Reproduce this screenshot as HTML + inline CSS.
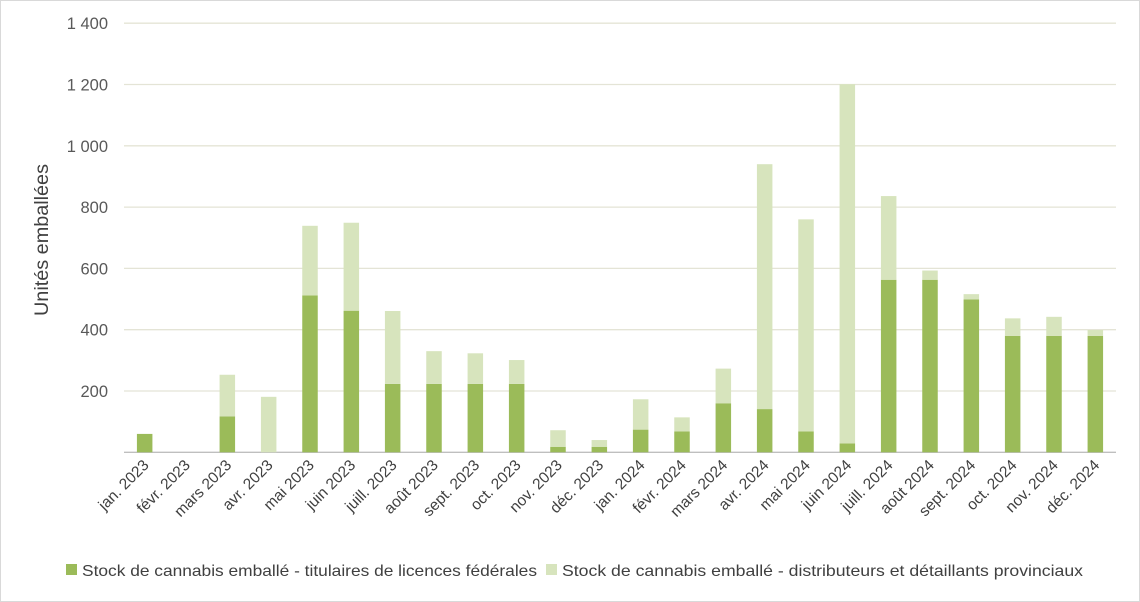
<!DOCTYPE html>
<html><head><meta charset="utf-8"><style>
body{margin:0;background:#fff;}
svg{display:block;font-family:"Liberation Sans",sans-serif;}
</style></head><body>
<svg id="chart" width="1140" height="602" viewBox="0 0 1140 602">
<rect x="0.5" y="0.5" width="1139" height="601" fill="#fff" stroke="#d9d9d9"/>
<g id="grid"></g><g id="bars"></g><g id="yticks"></g><g id="xticks"></g>
<text transform="translate(48,240) rotate(-90)" text-anchor="middle" font-size="19" fill="#404040" textLength="152" lengthAdjust="spacingAndGlyphs">Unités emballées</text>
<g>
<rect x="66" y="564" width="11" height="11" fill="#9bbb59"/>
<text x="82" y="576" font-size="16" fill="#404040" textLength="455" lengthAdjust="spacingAndGlyphs">Stock de cannabis emballé - titulaires de licences fédérales</text>
<rect x="546" y="564" width="11" height="11" fill="#d7e4bd"/>
<text x="562" y="576" font-size="16" fill="#404040" textLength="521" lengthAdjust="spacingAndGlyphs">Stock de cannabis emballé - distributeurs et détaillants provinciaux</text>
</g>
</svg>
<script>
const categories=["jan. 2023","févr. 2023","mars 2023","avr. 2023","mai 2023","juin 2023","juill. 2023","août 2023","sept. 2023","oct. 2023","nov. 2023","déc. 2023","jan. 2024","févr. 2024","mars 2024","avr. 2024","mai 2024","juin 2024","juill. 2024","août 2024","sept. 2024","oct. 2024","nov. 2024","déc. 2024"];
const federal=[60,0,117,0,512,462,223,223,223,223,18,18,74,68,160,141,68,29,563,563,499,380,380,380];
const provincial=[0,0,136,181,227,287,238,107,100,78,54,22,99,46,113,799,692,1172,273,30,17,57,62,19];
const yTicks=[0,200,400,600,800,1000,1200,1400];
const yTickLabels=["","200","400","600","800","1 000","1 200","1 400"];
const NS="http://www.w3.org/2000/svg";
const L=124,R=1116,Y0=452.3,PX=61.3/200;
const bw=(R-L)/categories.length;
const y=v=>Y0-v*PX;
const x=i=>L+bw*(i+0.5);
function mk(t,a,p){const e=document.createElementNS(NS,t);for(const k in a)e.setAttribute(k,a[k]);p.appendChild(e);return e;}
const grid=document.getElementById('grid'),bars=document.getElementById('bars'),yt=document.getElementById('yticks'),xt=document.getElementById('xticks');
yTicks.forEach((v,i)=>{
  const g=mk('line',{x1:L,x2:R,y1:y(v),y2:y(v),stroke:v===0?'#bfbfbf':'#e4e4d6','stroke-width':1.3},grid);
  
  
  const t=mk('text',{x:108,y:y(v)+6,'text-anchor':'end','font-size':16.5,fill:'#595959'},yt);
  t.textContent=yTickLabels[i];
  
  
});
categories.forEach((c,i)=>{
  const w=15.5,cx=x(i);
  if(federal[i]>0){const r=mk('rect',{x:cx-w/2,y:y(federal[i]),width:w,height:federal[i]*PX,fill:'#9bbb59'},bars);
  
  }
  if(provincial[i]>0){const r=mk('rect',{x:cx-w/2,y:y(federal[i]+provincial[i]),width:w,height:provincial[i]*PX,fill:'#d7e4bd'},bars);
  
  }
  const t=mk('text',{transform:`translate(${cx+5},${466}) rotate(-45)`,'text-anchor':'end','font-size':15.5,fill:'#404040'},xt);
  t.textContent=c;
  
  
});
</script>
</body></html>
